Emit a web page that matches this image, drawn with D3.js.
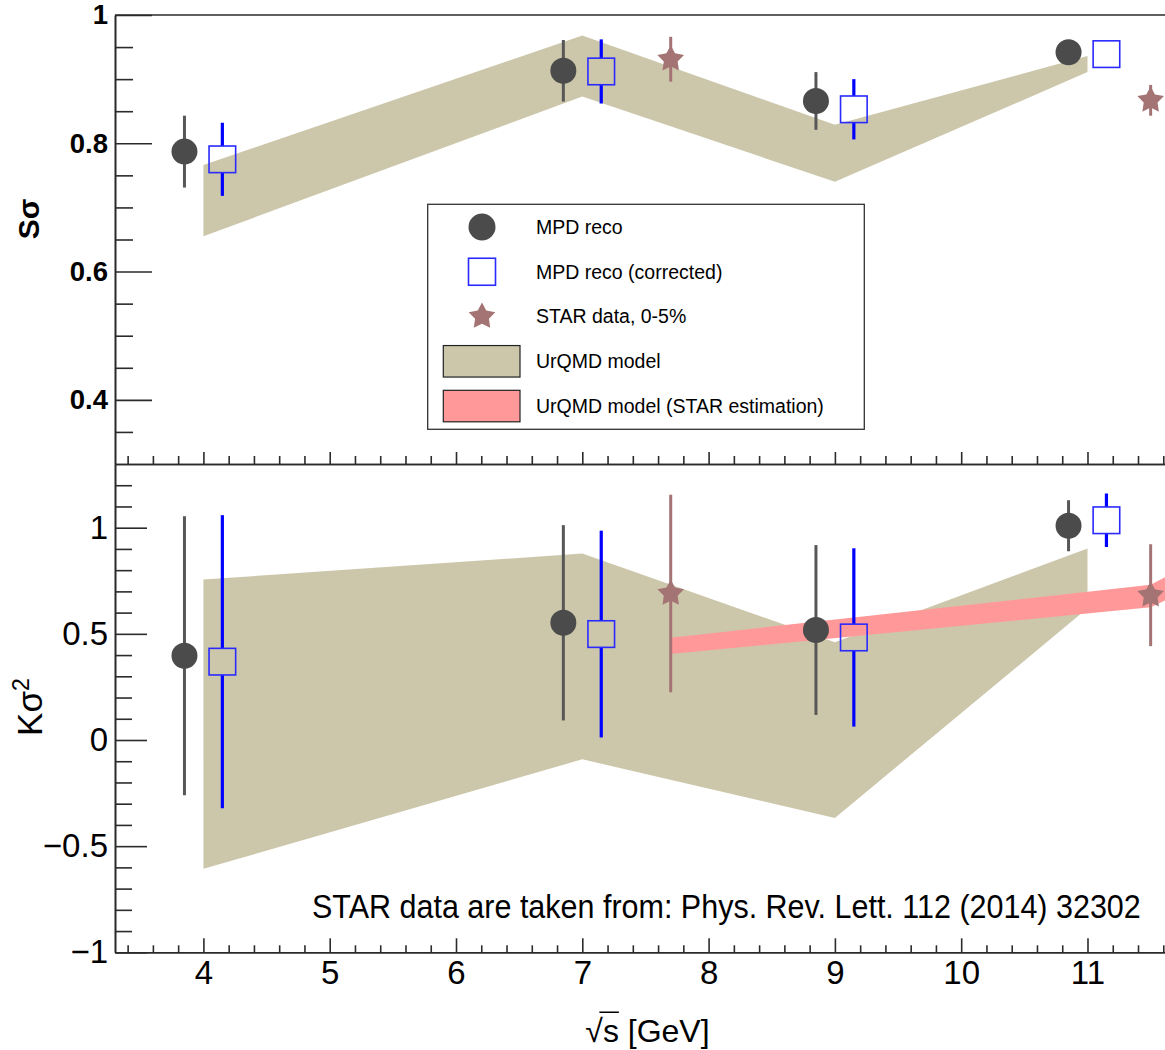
<!DOCTYPE html>
<html><head><meta charset="utf-8">
<script src="https://cdn.jsdelivr.net/npm/d3@7"></script>
<style>
body{margin:0;background:#fff;}
svg{display:block;}
text{font-family:"Liberation Sans", Arial, Helvetica, sans-serif;fill:#000;}
</style></head><body>
<svg id="chart" width="1165" height="1050"></svg>
<script>
// ---------------- DATA ----------------
const xReco  = [3.85, 6.85, 8.85, 10.85];   // MPD reco (shifted left)
const xCorr  = [4.15, 7.15, 9.15, 11.15];   // MPD reco corrected (shifted right)
const xStar  = [7.7, 11.5];                 // STAR energies
const xModel = [4, 7, 9, 11];               // UrQMD band nodes

// S sigma (top panel)
const sRecoVal  = [0.787, 0.913, 0.866, 0.942];
const sRecoErr  = [0.056, 0.048, 0.045, 0.018];
const sCorrVal  = [0.775, 0.912, 0.853, 0.939];
const sCorrErr  = [0.057, 0.050, 0.047, 0.010];
const sStarVal  = [0.931, 0.867];
const sStarErr  = [0.035, 0.024];
const sModelLow  = [0.655, 0.873, 0.740, 0.911];
const sModelHigh = [0.766, 0.968, 0.829, 0.936];

// K sigma^2 (bottom panel)
const kRecoVal  = [0.397, 0.552, 0.518, 1.009];
const kRecoErr  = [0.657, 0.460, 0.400, 0.120];
const kCorrVal  = [0.369, 0.499, 0.483, 1.035];
const kCorrErr  = [0.690, 0.487, 0.420, 0.126];
const kStarVal  = [0.690, 0.682];
const kStarErr  = [0.465, 0.240];
const kModelLow  = [-0.607, -0.091, -0.367, 0.620];
const kModelHigh = [0.756, 0.878, 0.460, 0.902];
// UrQMD (STAR estimation) band
const xEst    = [7.7, 11.5, 12.0];
const estLow  = [0.405, 0.625, 0.767];
const estHigh = [0.482, 0.731, 0.886];

// ticks
const xMajor = [4, 5, 6, 7, 8, 9, 10, 11];
const xTickLabels = ["4","5","6","7","8","9","10","11"];
const sMajor = [0.4, 0.6, 0.8, 1.0];
const sTickLabels = ["0.4","0.6","0.8","1"];
const kMajor = [-1, -0.5, 0, 0.5, 1];
const kTickLabels = ["\u22121","\u22120.5","0","0.5","1"];

const legendLabels = ["MPD reco","MPD reco (corrected)","STAR data, 0-5%","UrQMD model","UrQMD model (STAR estimation)"];
const annotation = "STAR data are taken from: Phys. Rev. Lett. 112 (2014) 32302";

// ---------------- STYLE ----------------
const C = {reco:"#4b4b4b", recoBar:"#575757", blue:"#0000ff", sq:"#2a2aff",
           star:"#a47474", tan:"#ccc7ab", pink:"#ff9999", axis:"#2b2b2b"};

const svg = d3.select("#chart");
svg.append("rect").attr("width",1165).attr("height",1050).attr("fill","#fff");

const x    = d3.scaleLinear().domain([3.3, 11.7]).range([115, 1175.9]);
const yTop = d3.scaleLinear().domain([0.3, 1.0]).range([464, 15]);
const yBot = d3.scaleLinear().domain([-1, 1.3]).range([952.3, 464]);

const range = (a,b,s)=>d3.range(Math.round((b-a)/s)+1).map(i=>+(a+i*s).toFixed(4));
const notIn = arr => v => !arr.some(m=>Math.abs(m-v)<1e-6);

const defs = svg.append("defs");
defs.append("clipPath").attr("id","clipTop").append("rect")
  .attr("x",x(3.3)).attr("y",yTop(1.0)).attr("width",x(11.7)-x(3.3)).attr("height",yTop(0.3)-yTop(1.0));
defs.append("clipPath").attr("id","clipBot").append("rect")
  .attr("x",x(3.3)).attr("y",yBot(1.3)).attr("width",x(11.7)-x(3.3)).attr("height",yBot(-1)-yBot(1.3));

const starType = {draw(ctx, size){
  const R = Math.sqrt(size), r = R*0.52;
  for(let i=0;i<10;i++){
    const a = -Math.PI/2 + i*Math.PI/5, rad = i%2 ? r : R;
    const px = rad*Math.cos(a), py = rad*Math.sin(a);
    if(i) ctx.lineTo(px,py); else ctx.moveTo(px,py);
  }
  ctx.closePath();
}};

function band(g, xs, lo, hi, y, fill){
  const data = xs.map((v,i)=>({x:v, lo:lo[i], hi:hi[i]}));
  g.append("path").datum(data)
    .attr("d", d3.area().x(d=>x(d.x)).y0(d=>y(d.lo)).y1(d=>y(d.hi)))
    .attr("fill", fill);
}
function bars(g, xs, vals, errs, y, color, w, gap){
  xs.forEach((xv,i)=>{
    const yc = y(vals[i]), yt = y(vals[i]+errs[i]), yb = y(vals[i]-errs[i]);
    if(yc-gap > yt) g.append("line").attr("x1",x(xv)).attr("x2",x(xv)).attr("y1",yt).attr("y2",yc-gap)
        .attr("stroke",color).attr("stroke-width",w);
    if(yb > yc+gap) g.append("line").attr("x1",x(xv)).attr("x2",x(xv)).attr("y1",yc+gap).attr("y2",yb)
        .attr("stroke",color).attr("stroke-width",w);
  });
}
function circles(g, xs, vals, y){
  g.selectAll(null).data(xs).enter().append("circle")
    .attr("cx",d=>x(d)).attr("cy",(d,i)=>y(vals[i])).attr("r",13).attr("fill",C.reco);
}
function squares(g, xs, vals, y){
  g.selectAll(null).data(xs).enter().append("rect")
    .attr("x",d=>x(d)-13.3).attr("y",(d,i)=>y(vals[i])-13.3).attr("width",26.6).attr("height",26.6)
    .attr("fill","none").attr("stroke",C.sq).attr("stroke-width",1.6);
}
function stars(g, xs, vals, y){
  g.selectAll(null).data(xs).enter().append("path")
    .attr("d", d3.symbol().type(starType).size(196))
    .attr("transform",(d,i)=>`translate(${x(d)},${y(vals[i])})`).attr("fill",C.star);
}

// ---------------- TOP PANEL ----------------
const gT = svg.append("g").attr("clip-path","url(#clipTop)");
band(gT, xModel, sModelLow, sModelHigh, yTop, C.tan);
bars(gT, xReco, sRecoVal, sRecoErr, yTop, C.recoBar, 3, 0);
bars(gT, xCorr, sCorrVal, sCorrErr, yTop, C.blue, 3.2, 13.3);
bars(gT, xStar, sStarVal, sStarErr, yTop, C.star, 3, 0);
circles(gT, xReco, sRecoVal, yTop);
squares(gT, xCorr, sCorrVal, yTop);
stars(gT, xStar, sStarVal, yTop);

// ---------------- BOTTOM PANEL ----------------
const gB = svg.append("g").attr("clip-path","url(#clipBot)");
band(gB, xModel, kModelLow, kModelHigh, yBot, C.tan);
band(gB, xEst, estLow, estHigh, yBot, C.pink);
bars(gB, xReco, kRecoVal, kRecoErr, yBot, C.recoBar, 3, 0);
bars(gB, xCorr, kCorrVal, kCorrErr, yBot, C.blue, 3.2, 13.3);
bars(gB, xStar, kStarVal, kStarErr, yBot, C.star, 3, 0);
circles(gB, xReco, kRecoVal, yBot);
squares(gB, xCorr, kCorrVal, yBot);
stars(gB, xStar, kStarVal, yBot);

// ---------------- AXES ----------------
function styleAxis(g){
  g.selectAll("path.domain").attr("stroke",C.axis).attr("stroke-width",1.6);
  g.selectAll(".tick line").attr("stroke",C.axis).attr("stroke-width",1.6);
}
const xMinor = range(3.4, 11.6, 0.2).filter(notIn(xMajor));
const sMinor = range(0.35, 0.95, 0.05).filter(notIn(sMajor));
const kMinor = range(-0.9, 1.2, 0.1).filter(notIn(kMajor));

let a;
a = svg.append("g").attr("transform",`translate(${x(3.3)},0)`)
  .call(d3.axisLeft(yTop).tickValues(sMajor).tickSize(-37).tickSizeOuter(0).tickPadding(7)
        .tickFormat((d,i)=>sTickLabels[i]));
a.selectAll("text").attr("font-size",27.5).attr("font-weight","bold").attr("font-family","Liberation Sans, Arial, sans-serif");
styleAxis(a);
a = svg.append("g").attr("transform",`translate(${x(3.3)},0)`)
  .call(d3.axisLeft(yTop).tickValues(sMinor).tickSize(-18).tickSizeOuter(0).tickFormat(""));
styleAxis(a);
svg.append("line").attr("x1",x(3.3)).attr("x2",x(11.7)).attr("y1",yTop(1.0)).attr("y2",yTop(1.0))
  .attr("stroke",C.axis).attr("stroke-width",1.6);
a = svg.append("g").attr("transform",`translate(0,${yTop(0.3)})`)
  .call(d3.axisBottom(x).tickValues(xMajor).tickSize(-12).tickSizeOuter(0).tickFormat(""));
styleAxis(a);
a = svg.append("g").attr("transform",`translate(0,${yTop(0.3)})`)
  .call(d3.axisBottom(x).tickValues(xMinor).tickSize(-8).tickSizeOuter(0).tickFormat(""));
styleAxis(a);

a = svg.append("g").attr("transform",`translate(${x(3.3)},0)`)
  .call(d3.axisLeft(yBot).tickValues(kMajor).tickSize(-32).tickSizeOuter(0).tickPadding(7)
        .tickFormat((d,i)=>kTickLabels[i]));
a.selectAll("text").attr("font-size",33);
styleAxis(a);
a = svg.append("g").attr("transform",`translate(${x(3.3)},0)`)
  .call(d3.axisLeft(yBot).tickValues(kMinor).tickSize(-17).tickSizeOuter(0).tickFormat(""));
styleAxis(a);
a = svg.append("g").attr("transform",`translate(0,${yBot(-1)})`)
  .call(d3.axisBottom(x).tickValues(xMajor).tickSize(-14).tickSizeOuter(0).tickPadding(8)
        .tickFormat((d,i)=>xTickLabels[i]));
a.selectAll("text").attr("font-size",33);
styleAxis(a);
a = svg.append("g").attr("transform",`translate(0,${yBot(-1)})`)
  .call(d3.axisBottom(x).tickValues(xMinor).tickSize(-7).tickSizeOuter(0).tickFormat(""));
styleAxis(a);

// ---------------- AXIS TITLES ----------------
svg.append("text").attr("transform",`translate(39,${yTop(0.682)}) rotate(-90)`)
  .attr("text-anchor","middle").attr("font-size",30).attr("font-weight","bold").text("S\u03c3");
const kt = svg.append("text").attr("transform",`translate(42,${yBot(0.155)}) rotate(-90)`)
  .attr("text-anchor","middle").attr("font-size",35);
kt.append("tspan").text("K\u03c3");
kt.append("tspan").attr("font-size",23).attr("dy",-13).text("2");

const fsX = 32, xlX = x(7.5)+2, xlY = 1042;
const xl = svg.append("text").attr("x",xlX).attr("y",xlY).attr("text-anchor","middle")
  .attr("font-size",fsX).text("\u221as [GeV]");
try{
  const n = xl.node();
  const e0 = n.getExtentOfChar(0), e1 = n.getExtentOfChar(1);
  svg.append("line").attr("x1",e0.x+e0.width*0.8).attr("x2",e1.x+e1.width)
    .attr("y1",xlY-fsX*0.93).attr("y2",xlY-fsX*0.93).attr("stroke","#000").attr("stroke-width",1.5);
}catch(e){}

// annotation: condensed horizontally to the reference width
const ann = svg.append("text").attr("x",0).attr("y",0).attr("font-size",33)
  .attr("font-family","'Liberation Sans Narrow', 'Liberation Sans', Arial, sans-serif")
  .text(annotation);
const annW = ann.node().getComputedTextLength() || 829;
ann.attr("transform",`translate(312,918) scale(${829/annW},1)`);

// ---------------- LEGEND ----------------
const L = {x:427.7, y:204.3, w:436.6, h:225, row0:227, dy:44.75, mx:482, tx:536};
const lg = svg.append("g");
lg.append("rect").attr("x",L.x).attr("y",L.y).attr("width",L.w).attr("height",L.h)
  .attr("fill","#fff").attr("stroke","#333").attr("stroke-width",1.3);
legendLabels.forEach((t,i)=>{
  const cy = L.row0 + i*L.dy;
  if(i===0) lg.append("circle").attr("cx",L.mx).attr("cy",cy).attr("r",13.5).attr("fill",C.reco);
  if(i===1) lg.append("rect").attr("x",L.mx-13.5).attr("y",cy-13.5).attr("width",27).attr("height",27)
      .attr("fill","none").attr("stroke",C.sq).attr("stroke-width",1.6);
  if(i===2) lg.append("path").attr("d",d3.symbol().type(starType).size(196)).attr("transform",`translate(${L.mx},${cy})`).attr("fill",C.star);
  if(i>=3) lg.append("rect").attr("x",443.3).attr("y",cy-15.7).attr("width",76.7).attr("height",31.5)
      .attr("fill", i===3?C.tan:C.pink).attr("stroke","#222").attr("stroke-width",1.2);
  lg.append("text").attr("x",L.tx).attr("y",cy).attr("dy","0.35em").attr("font-size",19.5).text(t);
});
</script>
</body></html>
